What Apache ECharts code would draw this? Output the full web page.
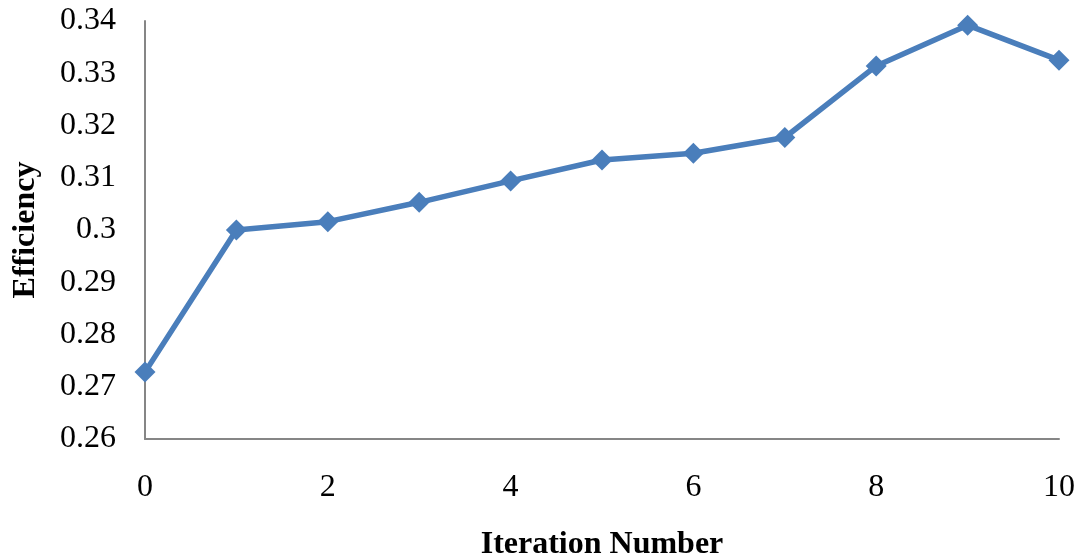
<!DOCTYPE html>
<html>
<head>
<meta charset="utf-8">
<script src="https://cdn.jsdelivr.net/npm/echarts@6/dist/echarts.min.js"></script>
<style>html,body{margin:0;padding:0;background:#fff;}#c{width:1081px;height:560px;}</style>
</head>
<body>
<div id="c"></div>
<script>
const iterations = [0, 1, 2, 3, 4, 5, 6, 7, 8, 9, 10];
const efficiency = [0.2728, 0.3000, 0.3016, 0.3053, 0.3094, 0.3134, 0.3147, 0.3177, 0.3314, 0.3392, 0.3325];
const xTitle = 'Iteration Number';
const yTitle = 'Efficiency';

const chart = echarts.init(document.getElementById('c'));
const font = '"Liberation Serif", "Times New Roman", serif';
chart.setOption({
  animation: false,
  grid: { left: 145, right: 22, top: 21, bottom: 121, containLabel: false, outerBoundsMode: 'none' },
  xAxis: {
    type: 'value', min: 0, max: 10, interval: 2,
    name: xTitle, nameLocation: 'middle', nameGap: 90,
    nameTextStyle: { fontFamily: font, fontSize: 32, fontWeight: 'bold', color: '#000' },
    axisLine: { lineStyle: { color: '#868686', width: 2 } },
    axisTick: { show: false },
    splitLine: { show: false },
    axisLabel: { fontFamily: font, fontSize: 32, color: '#000', margin: 33 }
  },
  yAxis: {
    type: 'value', min: 0.26, max: 0.34, interval: 0.01,
    name: yTitle, nameLocation: 'middle', nameGap: 103,
    nameTextStyle: { fontFamily: font, fontSize: 32, fontWeight: 'bold', color: '#000' },
    axisLine: { show: true, lineStyle: { color: '#868686', width: 2 } },
    axisTick: { show: false },
    splitLine: { show: false },
    axisLabel: { fontFamily: font, fontSize: 32, color: '#000', margin: 29 }
  },
  series: [{
    type: 'line',
    data: iterations.map((x, i) => [x, efficiency[i]]),
    symbol: 'diamond', symbolSize: 21,
    lineStyle: { color: '#4a7ebb', width: 5.5 },
    itemStyle: { color: '#4a7ebb' }
  }]
});
</script>
</body>
</html>
